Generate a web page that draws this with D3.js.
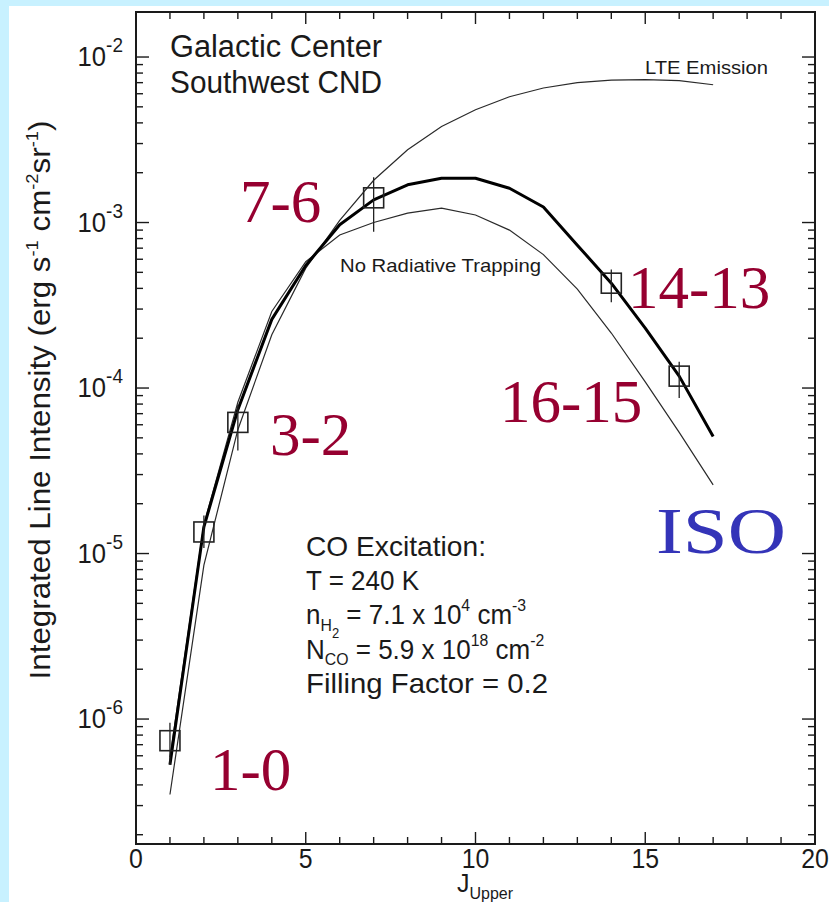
<!DOCTYPE html>
<html>
<head>
<meta charset="utf-8">
<script src="https://cdn.jsdelivr.net/npm/d3@7"></script>
<style>
  html, body { margin: 0; padding: 0; background: #c8f1ff; }
  svg { display: block; }
</style>
</head>
<body>
<svg id="chart" width="829" height="902"></svg>
<script>
// CO rotational ladder, J_upper
const jLevels = [1,2,3,4,5,6,7,8,9,10,11,12,13,14,15,16,17];

// Model curves (erg s^-1 cm^-2 sr^-1)
const modelFit = [5.3e-7,1.45e-5,7.4e-5,2.6e-4,5.5e-4,9.7e-4,1.37e-3,1.69e-3,1.85e-3,1.85e-3,1.61e-3,1.24e-3,7.3e-4,4.3e-4,2.3e-4,1.18e-4,5.1e-5];
const lteEmission = [3.5e-7,8.5e-6,5.6e-5,2.1e-4,5.3e-4,1.03e-3,1.8e-3,2.75e-3,3.8e-3,4.8e-3,5.75e-3,6.5e-3,7.0e-3,7.25e-3,7.3e-3,7.2e-3,6.8e-3];
const noTrapping = [5.9e-7,1.5e-5,8.2e-5,2.9e-4,5.8e-4,8.4e-4,1.0e-3,1.14e-3,1.22e-3,1.11e-3,9.0e-4,6.4e-4,3.96e-4,2.15e-4,1.09e-4,5.4e-5,2.6e-5];

// Observed lines with error ranges
const obsJ = [1,2,3,7,14,16];
const obsValue = [7.4e-7,1.35e-5,6.2e-5,1.41e-3,4.3e-4,1.18e-4];
const obsLow = [5.3e-7,1.08e-5,4.2e-5,8.8e-4,3.3e-4,8.7e-5];
const obsHigh = [9.5e-7,1.7e-5,7.9e-5,1.88e-3,5.2e-4,1.44e-4];

// Transition labels
const transLabels = ["1-0","3-2","7-6","14-13","16-15"];
const transPos = [[210,790],[270,455],[240,222],[628,308],[500,422]];

const xTicks = [0,5,10,15,20];
const yDecades = [-6,-5,-4,-3,-2];

const svg = d3.select("#chart");
const W = 829, H = 902;
const plot = {left: 136, right: 815, top: 12, bottom: 844};

// page panel
svg.append("rect").attr("x", 9).attr("y", 6).attr("width", W - 9).attr("height", H - 6).attr("fill", "#ffffff");

const x = d3.scaleLinear().domain([0, 20]).range([plot.left, plot.right]);
const y = d3.scaleLog().domain([Math.pow(10, -6.755), Math.pow(10, -1.728)]).range([plot.bottom, plot.top]);

const ink = "#1a1a1a";
const helv = "'Liberation Sans', Arial, Helvetica, sans-serif";
const times = "'Liberation Serif', 'Times New Roman', serif";

// minor / major ticks, drawn inward on all four sides
const tickG = svg.append("g").attr("stroke", ink).attr("stroke-width", 1.4);
d3.range(0, 21).forEach(v => {
  const len = v % 5 === 0 ? 12 : 7;
  tickG.append("line").attr("x1", x(v)).attr("x2", x(v)).attr("y1", plot.bottom).attr("y2", plot.bottom - len);
  tickG.append("line").attr("x1", x(v)).attr("x2", x(v)).attr("y1", plot.top).attr("y2", plot.top + len);
});
const [ylo, yhi] = y.domain();
for (let e = -7; e <= -1; e++) {
  for (let m = 1; m <= 9; m++) {
    const v = m * Math.pow(10, e);
    if (v < ylo || v > yhi) continue;
    const len = m === 1 ? 13 : 7;
    tickG.append("line").attr("x1", plot.left).attr("x2", plot.left + len).attr("y1", y(v)).attr("y2", y(v));
    tickG.append("line").attr("x1", plot.right).attr("x2", plot.right - len).attr("y1", y(v)).attr("y2", y(v));
  }
}

// frame
svg.append("rect").attr("x", plot.left).attr("y", plot.top)
  .attr("width", plot.right - plot.left).attr("height", plot.bottom - plot.top)
  .attr("fill", "none").attr("stroke", ink).attr("stroke-width", 2);

// x tick labels
svg.append("g").selectAll("text").data(xTicks).join("text")
  .attr("x", d => x(d)).attr("y", 868).attr("text-anchor", "middle")
  .attr("font-family", helv).attr("font-size", 27).attr("fill", ink)
  .attr("transform", d => `translate(${x(d)},868) scale(0.92,1) translate(${-x(d)},-868)`)
  .text(d => d);

// y tick labels 10^n
const yl = svg.append("g").attr("font-family", helv).attr("fill", ink);
yDecades.forEach(e => {
  const yy = y(Math.pow(10, e)) + 9;
  const t = yl.append("text").attr("x", 123).attr("y", yy).attr("text-anchor", "end").attr("font-size", 27)
    .attr("transform", `translate(123,${yy}) scale(0.95,1) translate(-123,${-yy})`);
  t.append("tspan").text("10");
  t.append("tspan").attr("font-size", 20).attr("dy", -14).text(String(e));
});

// x axis title
const xt = svg.append("text").attr("x", 457).attr("y", 892)
  .attr("font-family", helv).attr("font-size", 25).attr("fill", ink);
xt.append("tspan").text("J");
xt.append("tspan").attr("font-size", 16).attr("dy", 7).text("Upper");

// y axis title
const ytt = svg.append("text").attr("transform", "translate(50,400) rotate(-90) scale(1.08,1)")
  .attr("text-anchor", "middle").attr("font-family", helv).attr("font-size", 29).attr("fill", ink);
ytt.append("tspan").text("Integrated Line Intensity (erg s");
ytt.append("tspan").attr("font-size", 17).attr("dy", -12).text("-1");
ytt.append("tspan").attr("dy", 12).text(" cm");
ytt.append("tspan").attr("font-size", 17).attr("dy", -12).text("-2");
ytt.append("tspan").attr("dy", 12).text("sr");
ytt.append("tspan").attr("font-size", 17).attr("dy", -12).text("-1");
ytt.append("tspan").attr("dy", 12).text(")");

// model curves
const line = d3.line().x(d => x(d[0])).y(d => y(d[1]));
svg.append("clipPath").attr("id", "plotclip").append("rect")
  .attr("x", plot.left).attr("y", plot.top).attr("width", plot.right - plot.left).attr("height", plot.bottom - plot.top);
const curves = svg.append("g").attr("clip-path", "url(#plotclip)").attr("fill", "none");
curves.append("path").datum(jLevels.map((j, i) => [j, lteEmission[i]])).attr("d", line)
  .attr("stroke", "#2a2a2a").attr("stroke-width", 1.2);
curves.append("path").datum(jLevels.map((j, i) => [j, noTrapping[i]])).attr("d", line)
  .attr("stroke", "#2a2a2a").attr("stroke-width", 1.2);
curves.append("path").datum(jLevels.map((j, i) => [j, modelFit[i]])).attr("d", line)
  .attr("stroke", "#000").attr("stroke-width", 3).attr("stroke-linejoin", "round");

// observations: error bars and open squares
const obs = svg.append("g").attr("stroke", "#222").attr("fill", "none");
obsJ.forEach((j, i) => {
  obs.append("line").attr("x1", x(j)).attr("x2", x(j)).attr("y1", y(obsLow[i])).attr("y2", y(obsHigh[i])).attr("stroke-width", 1.3);
  obs.append("rect").attr("x", x(j) - 10).attr("y", y(obsValue[i]) - 10).attr("width", 20).attr("height", 20).attr("stroke-width", 1.6);
});

// annotations
const ann = svg.append("g").attr("font-family", helv).attr("fill", ink);
const fit = (sel, len) => sel.attr("textLength", len).attr("lengthAdjust", "spacingAndGlyphs");
fit(ann.append("text").attr("x", 170).attr("y", 57).attr("font-size", 31).text("Galactic Center"), 212);
fit(ann.append("text").attr("x", 170).attr("y", 93).attr("font-size", 31).text("Southwest CND"), 212);
fit(ann.append("text").attr("x", 645).attr("y", 74).attr("font-size", 19).text("LTE Emission"), 123);
fit(ann.append("text").attr("x", 340).attr("y", 272).attr("font-size", 19).text("No Radiative Trapping"), 201);

const box = svg.append("g").attr("font-family", helv).attr("fill", ink).attr("font-size", 28);
fit(box.append("text").attr("x", 306).attr("y", 556).text("CO Excitation:"), 180);
box.append("text").attr("x", 306).attr("y", 590).text("T = 240 K")
  .attr("transform", "translate(306,590) scale(0.93,1) translate(-306,-590)");
const n1 = box.append("text").attr("x", 306).attr("y", 624)
  .attr("transform", "translate(306,624) scale(0.93,1) translate(-306,-624)");
n1.append("tspan").text("n");
n1.append("tspan").attr("font-size", 17).attr("dy", 7).text("H");
n1.append("tspan").attr("font-size", 14).attr("dy", 7).text("2");
n1.append("tspan").attr("dy", -14).text(" = 7.1 x 10");
n1.append("tspan").attr("font-size", 17).attr("dy", -13).text("4");
n1.append("tspan").attr("dy", 13).text(" cm");
n1.append("tspan").attr("font-size", 17).attr("dy", -13).text("-3");
const n2 = box.append("text").attr("x", 306).attr("y", 659)
  .attr("transform", "translate(306,659) scale(0.93,1) translate(-306,-659)");
n2.append("tspan").text("N");
n2.append("tspan").attr("font-size", 17).attr("dy", 6).text("CO");
n2.append("tspan").attr("dy", -6).text(" = 5.9 x 10");
n2.append("tspan").attr("font-size", 17).attr("dy", -13).text("18");
n2.append("tspan").attr("dy", 13).text(" cm");
n2.append("tspan").attr("font-size", 17).attr("dy", -13).text("-2");
fit(box.append("text").attr("x", 306).attr("y", 693).text("Filling Factor = 0.2"), 242);

// transition labels
svg.append("g").selectAll("text").data(transLabels).join("text")
  .attr("x", (d, i) => transPos[i][0]).attr("y", (d, i) => transPos[i][1])
  .attr("font-family", times).attr("font-size", 61).attr("fill", "#960030")
  .text(d => d);
fit(svg.append("text").attr("x", 656).attr("y", 553).attr("font-family", times).attr("font-size", 65)
  .attr("fill", "#3434b8").text("ISO"), 130);
</script>
</body>
</html>
